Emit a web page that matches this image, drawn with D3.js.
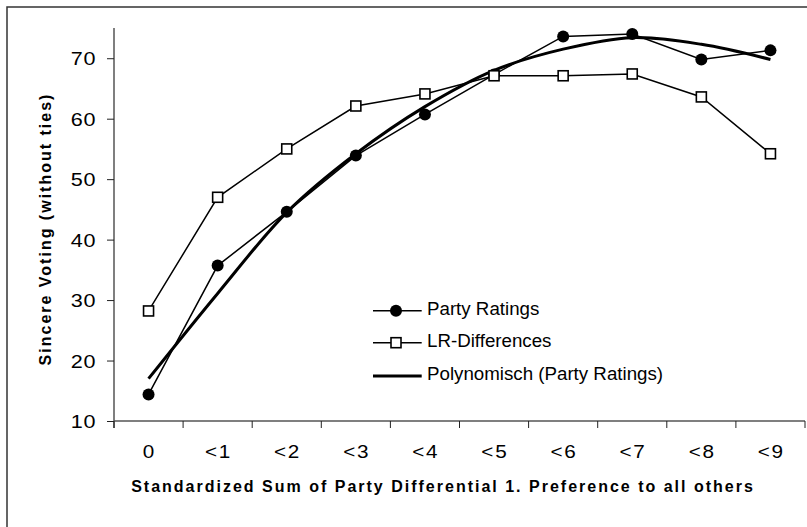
<!DOCTYPE html>
<html><head><meta charset="utf-8">
<script src="https://cdn.jsdelivr.net/npm/d3@7"></script>
<style>
html,body{margin:0;padding:0;background:#fff;overflow:hidden}
svg{display:block}
text{font-family:"Liberation Sans",Arial,Helvetica,sans-serif;fill:#000}
</style>
</head><body>
<svg id="c" width="807" height="527"></svg>
<script>
const categories = ["0","<1","<2","<3","<4","<5","<6","<7","<8","<9"];
const partyRatings = [14.4,35.7,44.6,53.9,60.7,67.3,73.6,74.0,69.8,71.3];
const lrDifferences = [28.2,47.0,55.0,62.1,64.1,67.1,67.1,67.4,63.6,54.2];
const polyTrend = [17.0,31.1,44.5,54.2,62.0,68.0,71.5,73.4,72.3,69.8];
const yTicks = [10,20,30,40,50,60,70];
const seriesNames = ["Party Ratings","LR-Differences","Polynomisch (Party Ratings)"];
const xTitle = "Standardized Sum of Party Differential 1. Preference to all others";
const yTitle = "Sincere Voting (without ties)";

const svg = d3.select("#c");
const L = 114, R = 805, T = 28, B = 421;

// outer chart-area border: only top and left edges fall inside the picture
svg.append("path").attr("d","M7,540V7H820")
  .attr("fill","none").attr("stroke","#333").attr("stroke-width",1.5);

const x = d3.scaleBand().domain(categories).range([L,R]);
const y = d3.scaleLinear().domain([10,75]).range([B,T]);
const cx = c => x(c) + x.bandwidth()/2;

// Y axis
const gy = svg.append("g").attr("transform",`translate(${L},0)`)
  .call(d3.axisLeft(y).tickValues(yTicks).tickSize(7).tickFormat(d3.format("d")));
gy.select(".domain").attr("stroke","#555").attr("stroke-width",1.5)
  .attr("d",`M0,${T}V${B+7}`);
gy.selectAll(".tick line").attr("stroke","#222");
gy.selectAll(".tick text").attr("x",null).attr("dy",null)
  .attr("text-anchor","end").attr("font-size",18).attr("letter-spacing",0.5)
  .attr("transform","translate(-18,6.5) scale(1.2,1)");

// X axis
const gx = svg.append("g").attr("transform",`translate(0,${B})`)
  .call(d3.axisBottom(x).tickSize(0));
gx.select(".domain").attr("stroke","#555").attr("stroke-width",1.5)
  .attr("d",`M${L},0H${R}`);
gx.selectAll(".tick text").attr("y",null).attr("dy",null)
  .attr("font-size",18).attr("text-anchor","middle").attr("letter-spacing",1.5)
  .attr("transform","translate(0.8,37.3) scale(1.15,1)");
const bounds = categories.map(c => x(c)).concat([x.range()[1]]);
gx.selectAll(".bt").data(bounds).join("line").attr("class","bt")
  .attr("x1",d=>d).attr("x2",d=>d).attr("y1",0).attr("y2",7)
  .attr("stroke","#222").attr("stroke-width",1);

// Titles
svg.append("text").attr("x",443).attr("y",492.3).attr("text-anchor","middle")
  .attr("font-size",16).attr("font-weight","bold").attr("letter-spacing",2)
  .text(xTitle);
svg.append("text").attr("transform","translate(50.5,229) rotate(-90)")
  .attr("text-anchor","middle").attr("font-size",16).attr("font-weight","bold")
  .attr("letter-spacing",2).text(yTitle);

// Lines
const line = d3.line().x((d,i)=>cx(categories[i])).y(d=>y(d));
const trendLine = d3.line().x((d,i)=>cx(categories[i])).y(d=>y(d)).curve(d3.curveCatmullRom.alpha(0.5));

svg.append("path").datum(partyRatings).attr("d",line)
  .attr("fill","none").attr("stroke","#000").attr("stroke-width",1.5);
svg.append("path").datum(lrDifferences).attr("d",line)
  .attr("fill","none").attr("stroke","#000").attr("stroke-width",1.5);
svg.append("path").datum(polyTrend).attr("d",trendLine)
  .attr("fill","none").attr("stroke","#000").attr("stroke-width",3);

svg.selectAll(".pr").data(partyRatings).join("circle").attr("class","pr")
  .attr("cx",(d,i)=>cx(categories[i])).attr("cy",d=>y(d)).attr("r",6).attr("fill","#000");
svg.selectAll(".lr").data(lrDifferences).join("rect").attr("class","lr")
  .attr("x",(d,i)=>cx(categories[i])-5).attr("y",d=>y(d)-5)
  .attr("width",10).attr("height",10)
  .attr("fill","#fff").attr("stroke","#000").attr("stroke-width",1.6);

// Legend
const legRows = [310.7,342.7,376];
const legBase = [314.5,346.7,380];
const lg = svg.append("g");
seriesNames.forEach((name,i)=>{
  lg.append("line").attr("x1",373).attr("x2",421.7).attr("y1",legRows[i]).attr("y2",legRows[i])
    .attr("stroke","#000").attr("stroke-width", i===2?3:1.5);
  if(i===0) lg.append("circle").attr("cx",396).attr("cy",legRows[i]).attr("r",6).attr("fill","#000");
  if(i===1) lg.append("rect").attr("x",391).attr("y",legRows[i]-5).attr("width",10).attr("height",10)
    .attr("fill","#fff").attr("stroke","#000").attr("stroke-width",1.6);
  lg.append("text").attr("font-size",17.5)
    .attr("transform",`translate(427,${legBase[i]}) scale(1.07,1)`).text(name);
});
</script>
</body></html>
